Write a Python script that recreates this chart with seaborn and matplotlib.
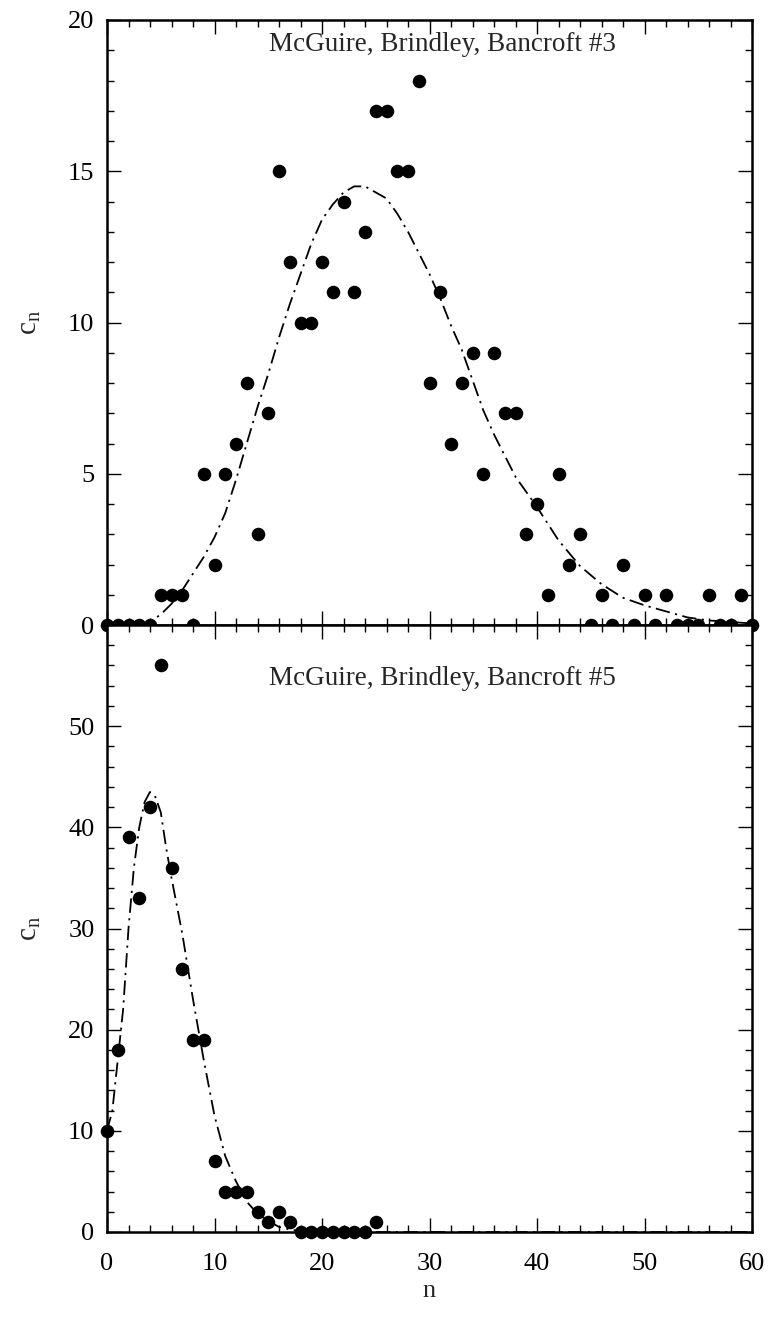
import numpy as np
import pandas as pd
import matplotlib
matplotlib.use("Agg")
import matplotlib.pyplot as plt
from matplotlib.ticker import MultipleLocator, FixedLocator
import seaborn as sns

# ---------------- data ----------------
n3 = list(range(0, 61))
c3 = [0, 0, 0, 0, 0, 1, 1, 1, 0, 5,
      2, 5, 6, 8, 3, 7, 15, 12, 10, 10,
      12, 11, 14, 11, 13, 17, 17, 15, 15, 18,
      8, 11, 6, 8, 9, 5, 9, 7, 7, 3,
      4, 1, 5, 2, 3, 0, 1, 0, 2, 0,
      1, 0, 1, 0, 0, 0, 1, 0, 0, 1,
      0]

fit3_n = [3, 4, 5, 6, 7, 8, 9, 10, 11, 12, 13, 14, 15, 16, 17, 18, 19, 20,
          21, 22, 23, 24, 25, 26, 27, 28, 29, 30, 31, 32, 33, 34, 35, 36, 37,
          38, 39, 40, 42, 44, 46, 48, 50, 52, 54, 56, 58, 60]
fit3_c = [0.0, 0.1, 0.35, 0.7, 1.15, 1.7, 2.25, 2.9, 3.7, 4.8, 6.0, 7.2, 8.3,
          9.5, 10.6, 11.6, 12.6, 13.4, 13.9, 14.3, 14.5, 14.5, 14.3, 14.1,
          13.6, 13.0, 12.3, 11.6, 10.8, 9.9, 9.1, 8.1, 7.1, 6.3, 5.6, 4.9,
          4.4, 3.9, 2.8, 1.95, 1.35, 0.9, 0.65, 0.45, 0.25, 0.15, 0.1, 0.05]

n5 = list(range(0, 26))
c5 = [10, 18, 39, 33, 42, 56, 36, 26, 19, 19,
      7, 4, 4, 4, 2, 1, 2, 1, 0, 0,
      0, 0, 0, 0, 0, 1]

fit5_n = [0, 0.5, 1, 1.5, 2, 2.5, 3, 3.5, 4, 4.5, 5, 5.5, 6, 7, 8, 9, 10,
          11, 12, 13, 14, 15, 16, 17, 18, 20, 25, 60]
fit5_c = [10, 12, 17, 22, 30, 36, 40, 42.5, 43.5, 43, 41.5, 38, 35, 29.5,
          23, 17, 11.5, 7.5, 5, 3, 1.8, 1.1, 0.5, 0.25, 0.1, 0.03, 0.0, 0.0]

label3 = "McGuire, Brindley, Bancroft #3"
label5 = "McGuire, Brindley, Bancroft #5"

# ---------------- style ----------------
sns.set_theme(style="white")
plt.rcParams["font.family"] = ["Liberation Serif", "DejaVu Serif"]
plt.rcParams["mathtext.fontset"] = "custom"
plt.rcParams["mathtext.rm"] = "Liberation Serif"
plt.rcParams["mathtext.it"] = "Liberation Serif"

W, H = 772, 1317
fig = plt.figure(figsize=(W / 100, H / 100), dpi=100)
left, right = 107 / W, 752 / W
y_top, y_mid, y_bot = 1 - 20 / H, 1 - 625 / H, 1 - 1232 / H
ax1 = fig.add_axes([left, y_mid, right - left, y_top - y_mid])
ax2 = fig.add_axes([left, y_bot, right - left, y_mid - y_bot], sharex=ax1)

df3 = pd.DataFrame({"n": n3, "c": c3})
df5 = pd.DataFrame({"n": n5, "c": c5})
f3 = pd.DataFrame({"n": fit3_n, "c": fit3_c})
f5 = pd.DataFrame({"n": fit5_n, "c": fit5_c})

dash = (8, 3, 1.2, 3)
for ax, df, fit in [(ax1, df3, f3), (ax2, df5, f5)]:
    sns.lineplot(data=fit, x="n", y="c", ax=ax, color="black", lw=1.3,
                 dashes=False, sort=False)
    ax.lines[-1].set_dashes(dash)
    sns.scatterplot(data=df, x="n", y="c", ax=ax, color="black", s=95,
                    edgecolor="black", linewidth=0, clip_on=False, zorder=5)

ax1.set_xlim(0, 60)
ax1.set_ylim(0, 20)
ax2.set_ylim(0, 60)

ax1.yaxis.set_major_locator(MultipleLocator(5))
ax1.yaxis.set_minor_locator(MultipleLocator(1))
ax2.yaxis.set_major_locator(FixedLocator([0, 10, 20, 30, 40, 50]))
ax2.yaxis.set_minor_locator(MultipleLocator(2))
ax1.xaxis.set_major_locator(MultipleLocator(10))
ax1.xaxis.set_minor_locator(MultipleLocator(2))

for ax in (ax1, ax2):
    for sp in ax.spines.values():
        sp.set_visible(True)
        sp.set_linewidth(1.8)
        sp.set_color("black")
    ax.tick_params(which="both", direction="in", top=True, right=True,
                   left=True, bottom=True, color="black", labelsize=19,
                   labelcolor="black")
    ax.tick_params(which="major", length=10, width=1.0)
    ax.tick_params(which="minor", length=5, width=1.0)
    ax.tick_params(axis="y", which="major", pad=9)
    ax.tick_params(axis="x", which="major", pad=15)
    ax.set_ylabel(r"$\mathregular{c_n}$", fontsize=21, labelpad=18)
    ax.set_xlabel("")
    ax.set_facecolor("white")

ax1.tick_params(labelbottom=False)
ax2.set_xlabel("n", fontsize=19, labelpad=4)

ax1.text(31.2, 19.2, label3, ha="center", va="center", fontsize=19.5)
ax2.text(31.2, 54.7, label5, ha="center", va="center", fontsize=19.5)

fig.savefig("out.png", dpi=100, facecolor="white")
